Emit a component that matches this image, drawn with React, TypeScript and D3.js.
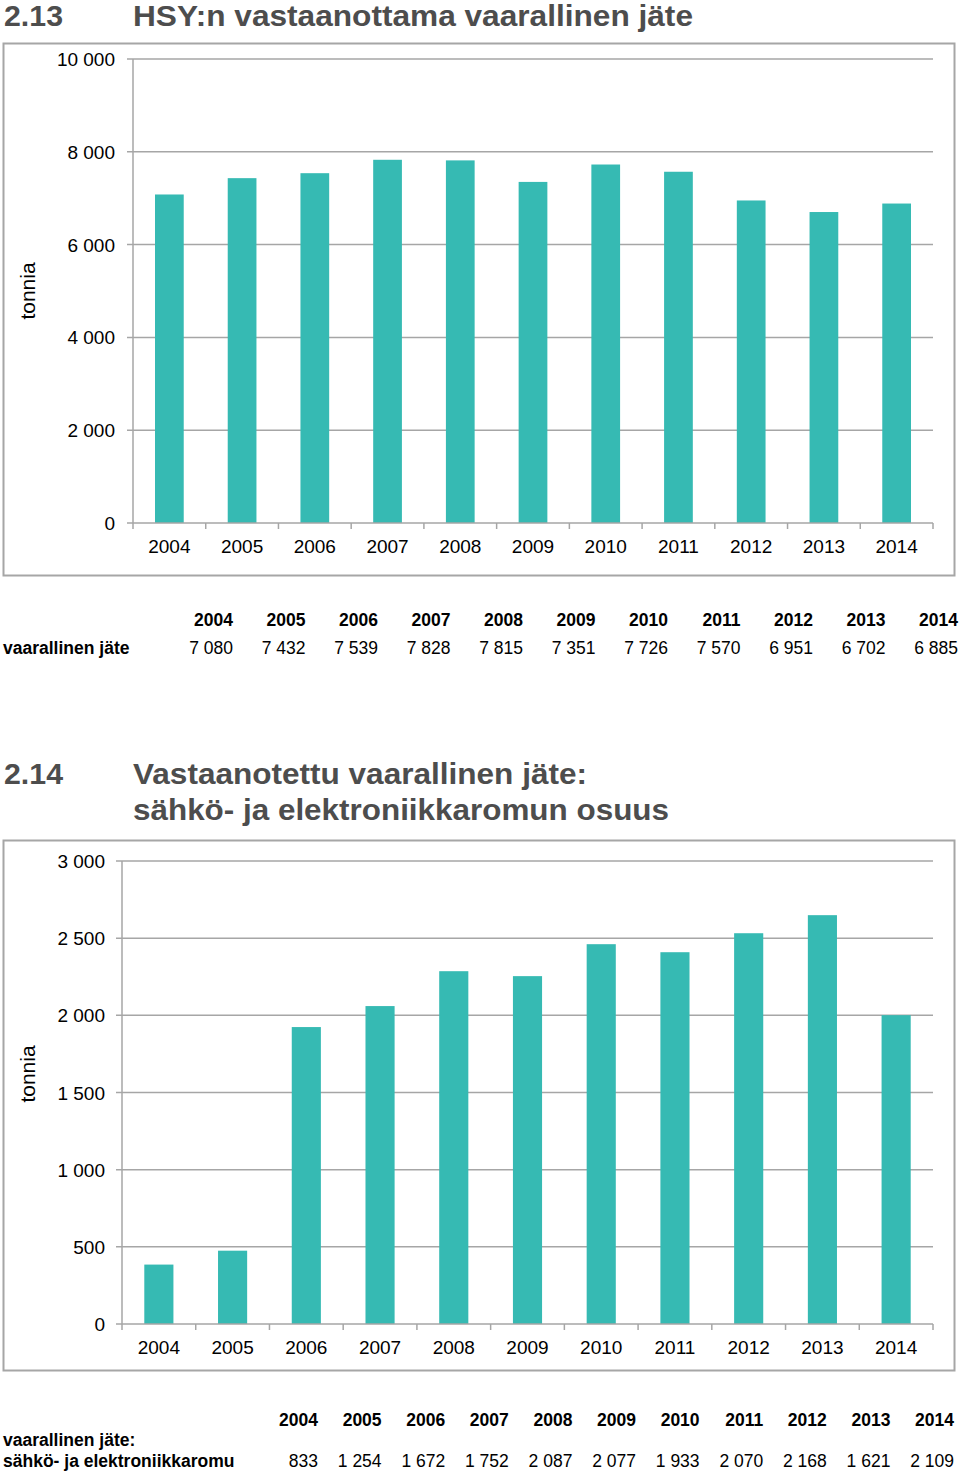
import React from "react";
import * as d3 from "d3";

const years = ["2004","2005","2006","2007","2008","2009","2010","2011","2012","2013","2014"];
const hazardous = [7080, 7432, 7539, 7828, 7815, 7351, 7726, 7570, 6951, 6702, 6885];
const hazardousTicks = [0, 2000, 4000, 6000, 8000, 10000];
// bar heights as drawn in chart 2.14
const electronicsBars = [385, 475, 1924, 2060, 2286, 2254, 2461, 2409, 2532, 2649, 2001];
// values printed in the 2.14 table
const electronicsTable = [833, 1254, 1672, 1752, 2087, 2077, 1933, 2070, 2168, 1621, 2109];
const electronicsTicks = [0, 500, 1000, 1500, 2000, 2500, 3000];

const FONT = "'Liberation Sans', Arial, sans-serif";
const BAR = "#36bab3";
const GRID = "#a6a6a6";
const TITLE = "#4d4d4d";

const fmt = (v: number) => {
  const s = String(Math.round(v));
  return s.replace(/\B(?=(\d{3})+(?!\d))/g, " ");
};

type ChartProps = {
  values: number[];
  ticks: number[];
  max: number;
  x0: number; x1: number; yTop: number; yBot: number;
  labelX: number; tonniaY: number;
};

function BarChart({ values, ticks, max, x0, x1, yTop, yBot, labelX, tonniaY }: ChartProps) {
  const x = d3.scaleBand<string>().domain(years).range([x0, x1]).paddingInner(0).paddingOuter(0);
  const y = d3.scaleLinear().domain([0, max]).range([yBot, yTop]);
  const bw = x.bandwidth() * 0.395;
  return (
    <g>
      {ticks.map(t => (
        <g key={t}>
          <line x1={x0 - 6} x2={t === 0 ? x0 : x1} y1={y(t)} y2={y(t)} stroke={GRID} strokeWidth={1.5} />
          <text x={labelX} y={y(t) + 7} textAnchor="end" fontSize={19} fontFamily={FONT} fill="#000">{fmt(t)}</text>
        </g>
      ))}
      {years.map((yr, i) => (
        <rect key={yr} x={(x(yr) as number) + x.bandwidth() / 2 - bw / 2} y={y(values[i])}
          width={bw} height={yBot - y(values[i])} fill={BAR} />
      ))}
      <line x1={x0} x2={x0} y1={yTop} y2={yBot} stroke={GRID} strokeWidth={1.5} />
      <line x1={x0} x2={x1} y1={yBot} y2={yBot} stroke={GRID} strokeWidth={1.5} />
      {[...years.map(yr => x(yr) as number), x1].map((p, i) => (
        <line key={i} x1={p} x2={p} y1={yBot} y2={yBot + 6} stroke={GRID} strokeWidth={1.5} />
      ))}
      {years.map(yr => (
        <text key={yr} x={(x(yr) as number) + x.bandwidth() / 2} y={yBot + 30} textAnchor="middle"
          fontSize={19} fontFamily={FONT} fill="#000">{yr}</text>
      ))}
      <text transform={`translate(35,${tonniaY}) rotate(-90)`} textAnchor="middle" fontSize={21}
        fontFamily={FONT} fill="#000">tonnia</text>
    </g>
  );
}

export default function App() {
  const col1 = d3.scaleLinear().domain([0, 10]).range([233, 958]);
  const col2 = d3.scaleLinear().domain([0, 10]).range([318, 954]);
  return (
    <svg width={960} height={1472} style={{ position: "absolute", left: 0, top: 0, background: "#fff" }}
      fontFamily={FONT}>
      <rect width={960} height={1472} fill="#fff" />
      {/* Title 2.13 */}
      <text x={4} y={26} fontSize={29.5} fontWeight="bold" fill={TITLE} textLength={59} lengthAdjust="spacingAndGlyphs">2.13</text>
      <text x={133} y={26} fontSize={29.5} fontWeight="bold" fill={TITLE} textLength={560} lengthAdjust="spacingAndGlyphs">HSY:n vastaanottama vaarallinen jäte</text>
      <rect x={3.5} y={43.5} width={951} height={532} fill="none" stroke={GRID} strokeWidth={2} />
      <BarChart values={hazardous} ticks={hazardousTicks} max={10000} x0={133} x1={933} yTop={59} yBot={523}
        labelX={115} tonniaY={291} />
      {/* Table 2.13 */}
      {years.map((yr, i) => (
        <g key={yr}>
          <text x={col1(i)} y={626} textAnchor="end" fontSize={17.5} fontWeight="bold">{yr}</text>
          <text x={col1(i)} y={654} textAnchor="end" fontSize={17.5}>{fmt(hazardous[i])}</text>
        </g>
      ))}
      <text x={3} y={654} fontSize={17.5} fontWeight="bold">vaarallinen jäte</text>

      {/* Title 2.14 */}
      <text x={4} y={784} fontSize={30} fontWeight="bold" fill={TITLE} textLength={59} lengthAdjust="spacingAndGlyphs">2.14</text>
      <text x={133} y={784} fontSize={30} fontWeight="bold" fill={TITLE} textLength={454} lengthAdjust="spacingAndGlyphs">Vastaanotettu vaarallinen jäte:</text>
      <text x={133} y={820} fontSize={30} fontWeight="bold" fill={TITLE} textLength={536} lengthAdjust="spacingAndGlyphs">sähkö- ja elektroniikkaromun osuus</text>
      <rect x={3.5} y={840.5} width={951} height={530} fill="none" stroke={GRID} strokeWidth={2} />
      <BarChart values={electronicsBars} ticks={electronicsTicks} max={3000} x0={122} x1={933} yTop={861} yBot={1324}
        labelX={105} tonniaY={1074} />
      {/* Table 2.14 */}
      {years.map((yr, i) => (
        <g key={yr}>
          <text x={col2(i)} y={1426} textAnchor="end" fontSize={17.5} fontWeight="bold">{yr}</text>
          <text x={col2(i)} y={1467} textAnchor="end" fontSize={17.5}>{fmt(electronicsTable[i])}</text>
        </g>
      ))}
      <text x={3} y={1446} fontSize={17.5} fontWeight="bold">vaarallinen jäte:</text>
      <text x={3} y={1467} fontSize={17.5} fontWeight="bold">sähkö- ja elektroniikkaromu</text>
    </svg>
  );
}
